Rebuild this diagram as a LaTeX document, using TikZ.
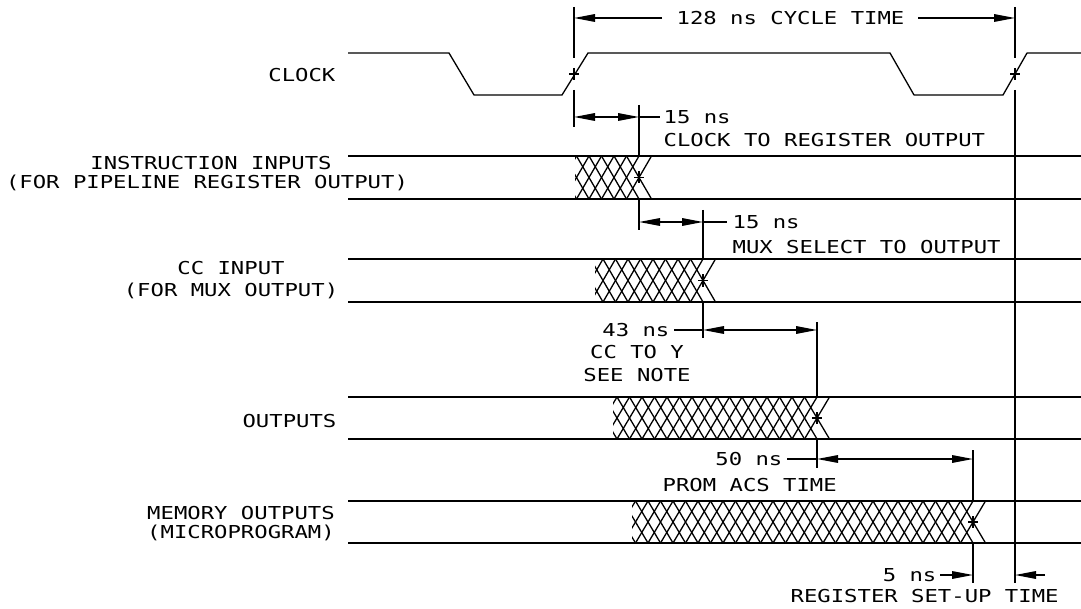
\documentclass[tikz,border=0pt]{standalone}
\usepackage{fontspec}
\newfontfamily\plotter[FakeStretch=1.25]{DejaVu Sans Mono}
\usetikzlibrary{arrows.meta}
\tikzset{
  lbl/.style={font={\plotter\fontsize{8.9}{10}\selectfont},inner sep=0pt,text height=6.5pt,text depth=0pt},
}
% hatched bus: top, bottom, start, crossing
\newcommand{\hatchbus}[4]{
  \begin{scope}
    \clip (#3,#1) rectangle (#4+20,#2);
    \pgfmathtruncatemacro\nhatch{(#4-#3)/12.5+2}
    \foreach \k in {0,...,\nhatch} {
      \draw ({#4+12.5-\k*12.5},#1) -- ({#4-12.5-\k*12.5},#2);
      \draw ({#4-12.5-\k*12.5},#1) -- ({#4+12.5-\k*12.5},#2);
    }
  \end{scope}
}
\newcommand{\tickmark}[2]{\draw (#1-5,#2) -- (#1+5,#2) (#1,#2-6) -- (#1,#2+6);}

\begin{document}
\begin{tikzpicture}[x=0.5pt,y=-0.5pt,>={Triangle[length=10.5pt,width=3.8pt]},line width=0.65pt,line join=bevel]
\useasboundingbox (0,0) rectangle (1081,609);
% signal names
\node[lbl,anchor=east] (clklbl) at (336,75) {CLOCK};
\node[lbl] (inslbl) at (211,163) {INSTRUCTION INPUTS};
\node[lbl] (inslbl2) at (207,182) {(FOR PIPELINE REGISTER OUTPUT)};
\node[lbl] (cclbl) at (231,268) {CC INPUT};
\node[lbl] (cclbl2) at (231,290) {(FOR MUX OUTPUT)};
\node[lbl,anchor=east] (outlbl) at (337,421) {OUTPUTS};
\node[lbl] (memlbl) at (241,513) {MEMORY OUTPUTS};
\node[lbl] (memlbl2) at (241,532) {(MICROPROGRAM)};
% clock
\draw (348,53) -- (449,53) -- (474,95) -- (562,95) -- (588,53) -- (890,53) -- (914,95) -- (1003,95) -- (1027,53) -- (1081,53);
% buses
\draw (348,156) -- (1081,156) (348,199) -- (1081,199);
\draw (348,259) -- (1081,259) (348,302) -- (1081,302);
\draw (348,397) -- (1081,397) (348,439) -- (1081,439);
\draw (348,501) -- (1081,501) (348,543) -- (1081,543);
\hatchbus{156}{199}{575}{639}
\hatchbus{259}{302}{595}{703}
\hatchbus{397}{439}{613}{817}
\hatchbus{501}{543}{632}{973}
% extension lines
\draw (574,7) -- (574,58) (574,90) -- (574,127);
\draw (1015,7) -- (1015,58) (1015,90) -- (1015,583);
\draw (639,105) -- (639,156) (639,199) -- (639,230);
\draw (703,210) -- (703,259) (703,302) -- (703,338);
\draw (817,322) -- (817,397) (817,439) -- (817,468);
\draw (973,450) -- (973,501) (973,543) -- (973,583);
\tickmark{574}{74}
\tickmark{1015}{74}
\tickmark{639}{177.5}
\tickmark{703}{280.5}
\tickmark{817}{418}
\tickmark{973}{522}
% dimension ends
\coordinate (cyc0) at (574,18);
\coordinate (cyc1) at (1015,18);
\coordinate (reg0) at (574,117);
\coordinate (reg1) at (639,117);
\coordinate (mux0) at (639,222);
\coordinate (mux1) at (703,222);
\coordinate (ccy0) at (703,330);
\coordinate (ccy1) at (817,330);
\coordinate (acs0) at (817,459);
\coordinate (acs1) at (973,459);
\coordinate (su0) at (973,575);
\coordinate (su1) at (1015,575);
\coordinate (sutail) at (1045,575);
% cycle time
\node[lbl,anchor=west] (cyctxt) at (676,18) {128 ns CYCLE TIME};
\draw[->] ([xshift=-7pt]cyctxt.west) -- (cyc0);
\draw[->] ([xshift=6.5pt]cyctxt.east) -- (cyc1);
% clock to register output
\node[lbl,anchor=west] (regtxt) at (663,117) {15 ns};
\node[lbl,anchor=west] (regsub) at (663,140) {CLOCK TO REGISTER OUTPUT};
\draw[<->] (reg0) -- (reg1);
\draw (reg1) -- ([xshift=-1.5pt]regtxt.west);
% mux select
\node[lbl,anchor=west] (muxtxt) at (732,222) {15 ns};
\node[lbl,anchor=west] (muxsub) at (732,247) {MUX SELECT TO OUTPUT};
\draw[<->] (mux0) -- (mux1);
\draw (mux1) -- ([xshift=-2.5pt]muxtxt.west);
% cc to y
\node[lbl,anchor=east] (ccytxt) at (670,330) {43 ns};
\node[lbl] (ccysub) at (637,352) {CC TO Y};
\node[lbl] (ccynote) at (637,375) {SEE NOTE};
\draw[<->] (ccy0) -- (ccy1);
\draw (ccy0) -- ([xshift=2pt]ccytxt.east);
% prom access
\node[lbl,anchor=east] (acstxt) at (783,459) {50 ns};
\node[lbl,anchor=west] (acssub) at (662,485) {PROM ACS TIME};
\draw[<->] (acs0) -- (acs1);
\draw (acs0) -- ([xshift=2pt]acstxt.east);
% set-up time
\node[lbl,anchor=east] (sutxt) at (937,575) {5 ns};
\node[lbl,anchor=west] (susub) at (790,596) {REGISTER SET-UP TIME};
\draw[->] ([xshift=1.5pt]sutxt.east) -- (su0);
\draw[->] (sutail) -- (su1);
\end{tikzpicture}
\end{document}
